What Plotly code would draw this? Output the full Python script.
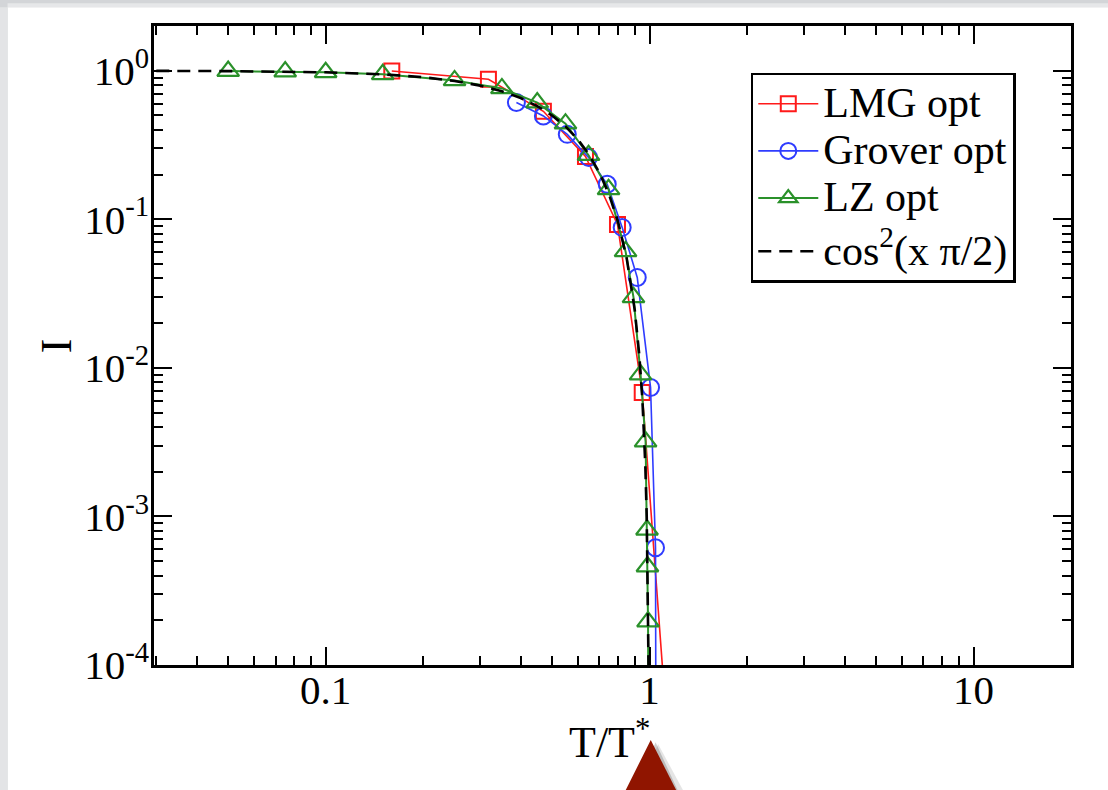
import plotly.graph_objects as go

# ---------------- data ----------------
lmg_x = [0.16, 0.318, 0.47, 0.634, 0.796, 0.949, 1.2]
lmg_y = [0.995, 0.877, 0.533, 0.265, 0.0924, 0.00683, 6.6e-6]

grover_x = [0.388, 0.47, 0.557, 0.648, 0.74, 0.823, 0.916, 1.007, 1.043, 1.047]
grover_y = [0.611, 0.496, 0.373, 0.261, 0.172, 0.0882, 0.0406, 0.00737, 0.000615, 1e-5]

lz_x = [0.05, 0.075, 0.1, 0.15, 0.25, 0.35, 0.45, 0.55, 0.648, 0.747, 0.843, 0.892,
        0.938, 0.972, 0.982, 0.985, 0.989, 0.995]
lz_y = [0.994, 0.986, 0.976, 0.946, 0.86, 0.76, 0.61, 0.44, 0.27, 0.159, 0.0608, 0.0298,
        0.0090, 0.00319, 0.000813, 0.00046, 0.000196, 1e-5]

cos_x = [0.03, 0.05, 0.1, 0.15, 0.2, 0.25, 0.3, 0.35, 0.4, 0.45, 0.5, 0.55, 0.6, 0.65,
         0.7, 0.75, 0.8, 0.85, 0.9, 0.93, 0.95, 0.97, 0.98, 0.99, 0.995]
cos_y = [0.99778, 0.993844, 0.975528, 0.945503, 0.904508, 0.853553, 0.793893, 0.726995,
         0.654508, 0.578217, 0.5, 0.421783, 0.345492, 0.273005, 0.206107, 0.146447,
         0.095492, 0.054497, 0.024472, 0.012041, 0.0061558, 0.0022190, 0.00098664,
         0.00024672, 6.1685e-5]

x_tick_vals = [0.1, 1, 10]
x_tick_text = ["0.1", "1", "10"]
y_tick_exps = [-4, -3, -2, -1, 0]
y_tick_text = ["10<sup>%d</sup>" % e for e in y_tick_exps]

names = ["LMG opt", "Grover opt", "LZ opt", "cos<sup>2</sup>(x π/2)"]

RED = "#ff1a1a"
BLUE = "#2f3cff"
GREEN = "#2a912a"
FONT = "Liberation Serif"
LEG_TEXT = '<span style="font-size:42px">%s</span>'

fig = go.Figure()
fig.add_trace(go.Scatter(x=lmg_x, y=lmg_y, name=LEG_TEXT % names[0], mode="lines+markers",
                         legendgroup="data",
                         line=dict(color=RED, width=1.6),
                         marker=dict(symbol="square-open", size=15, color=RED,
                                     line=dict(width=2, color=RED))))
fig.add_trace(go.Scatter(x=grover_x, y=grover_y, name=LEG_TEXT % names[1], mode="lines+markers",
                         legendgroup="data",
                         line=dict(color=BLUE, width=1.6),
                         marker=dict(symbol="circle-open", size=17, color=BLUE,
                                     line=dict(width=2, color=BLUE))))
fig.add_trace(go.Scatter(x=lz_x, y=lz_y, name=LEG_TEXT % names[2], mode="lines+markers",
                         legendgroup="data",
                         line=dict(color=GREEN, width=2),
                         marker=dict(symbol="triangle-up-open", size=19, color=GREEN,
                                     line=dict(width=2.2, color=GREEN))))
fig.add_trace(go.Scatter(x=cos_x, y=cos_y, name=LEG_TEXT % names[3], mode="lines",
                         legendgroup="fit",
                         line=dict(color="black", width=2.6, dash="13px,8px")))

axis_common = dict(
    type="log", showline=True, linecolor="black", linewidth=2.5, mirror="allticks",
    ticks="inside", ticklen=18, tickwidth=2, tickcolor="black",
    showgrid=False, zeroline=False,
    tickfont=dict(family=FONT, size=41, color="black"),
    minor=dict(dtick="D1", ticks="inside", ticklen=9, tickwidth=2, tickcolor="black",
               showgrid=False),
)

fig.update_xaxes(range=[-1.53, 1.301], tickmode="array", tickvals=x_tick_vals,
                 ticktext=x_tick_text, ticklabelstandoff=-13, **axis_common)
fig.update_yaxes(range=[-4, 0.301], tickmode="array",
                 tickvals=[10.0 ** e for e in y_tick_exps], ticktext=y_tick_text,
                 ticklabelstandoff=-6, **axis_common)

# page frame (screenshot border) and pointer triangle
shapes = [
    dict(type="rect", xref="paper", yref="paper", x0=-0.1597, x1=1.3, y0=-0.3, y1=1.0293,
         fillcolor="white", line=dict(width=0), layer="below"),
    dict(type="rect", xref="paper", yref="paper", x0=-0.1684, x1=-0.1597, y0=-0.3, y1=1.0293,
         fillcolor="#e3e4e6", line=dict(width=0), layer="below"),
    dict(type="rect", xref="paper", yref="paper", x0=-0.1597, x1=1.3, y0=1.0293, y1=1.0355,
         fillcolor="#e6e7e9", line=dict(width=0), layer="below"),
    dict(type="path", xref="paper", yref="paper",
         path="M 0.5497,-0.1237 L 0.5188,-0.2300 L 0.5898,-0.2300 Z",
         fillcolor="rgba(0,0,0,0.10)", line=dict(width=0)),
    dict(type="path", xref="paper", yref="paper",
         path="M 0.5470,-0.1210 L 0.5150,-0.2300 L 0.5820,-0.2300 Z",
         fillcolor="rgba(0,0,0,0.18)", line=dict(width=0)),
    dict(type="path", xref="paper", yref="paper",
         path="M 0.5417,-0.1173 L 0.5060,-0.2200 L 0.5780,-0.2200 Z",
         fillcolor="#901500", line=dict(width=0)),
]

annotations = [
    dict(text="T/T<sup>*</sup>", xref="paper", yref="paper", x=0.497, y=-0.117,
         xanchor="center", yanchor="middle", showarrow=False,
         font=dict(family=FONT, size=44, color="black")),
    dict(text="I", xref="paper", yref="paper", x=-0.106, y=0.5, textangle=-90,
         xanchor="center", yanchor="middle", showarrow=False,
         font=dict(family=FONT, size=44, color="black")),
]

fig.update_layout(
    width=1108, height=790,
    margin=dict(l=154, r=37, t=26, b=125, pad=0),
    paper_bgcolor="#d3d5d8", plot_bgcolor="rgba(0,0,0,0)",
    shapes=shapes, annotations=annotations,
    showlegend=True,
    legend=dict(x=0.6508, y=0.9271, xanchor="left", yanchor="top",
                bordercolor="black", borderwidth=2.5, bgcolor="white",
                font=dict(family=FONT, size=34, color="black"),
                itemwidth=60, tracegroupgap=6, traceorder="grouped"),
)

fig.write_html("out.html", config={"displayModeBar": False},
               post_script="document.body.style.margin='0';document.body.style.padding='0';")
